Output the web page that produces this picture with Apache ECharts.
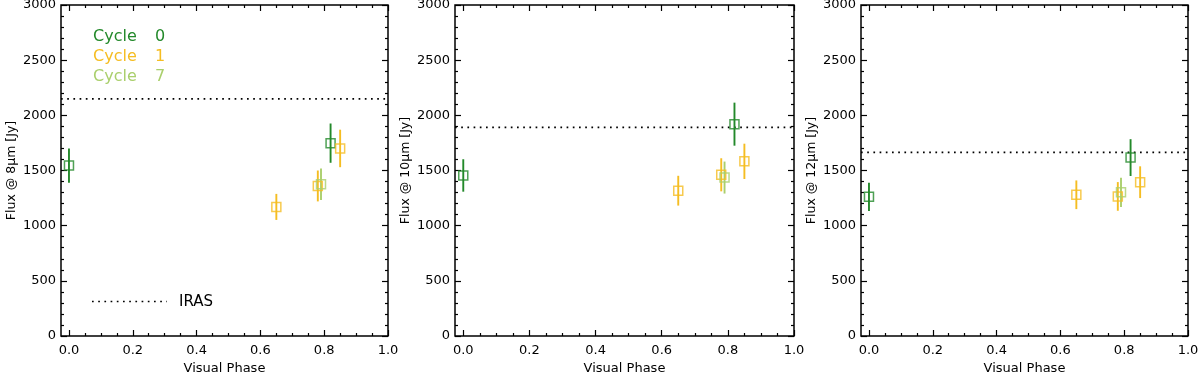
<!DOCTYPE html>
<html>
<head>
<meta charset="utf-8">
<title>Flux vs visual phase</title>
<script src="https://cdn.jsdelivr.net/npm/echarts@6.0.0/dist/echarts.min.js"></script>
<style>
  html, body { margin: 0; padding: 0; background: #fff; }
  #chart { width: 1200px; height: 373px; }
</style>
</head>
<body>
<div id="chart"></div>
<script>
// band names, IRAS reference flux per band
var bands = ['8', '10', '12'];
var irasFlux = [2150, 1890, 1665];

// cycle 0
var cycle0Phase = [0.00, 0.82];
var cycle0Flux = [[1545, 1748], [1455, 1920], [1262, 1617]];
var cycle0Err = [[155, 178], [147, 195], [128, 167]];
// cycle 1
var cycle1Phase = [0.65, 0.78, 0.85];
var cycle1Flux = [[1170, 1360, 1700], [1317, 1461, 1583], [1280, 1265, 1394]];
var cycle1Err = [[118, 140, 170], [135, 150, 160], [130, 130, 144]];
// cycle 7
var cycle7Phase = [0.79];
var cycle7Flux = [[1375], [1436], [1302]];
var cycle7Err = [[142], [145], [132]];

var xTicks = [0, 0.2, 0.4, 0.6, 0.8, 1.0];
var xMinorTicks = [0.05, 0.1, 0.15, 0.25, 0.3, 0.35, 0.45, 0.5, 0.55, 0.65, 0.7, 0.75, 0.85, 0.9, 0.95];
var yTicks = [0, 500, 1000, 1500, 2000, 2500, 3000];

var FONT = 'DejaVu Sans';
var XMIN = -0.025, XMAX = 1.0;

var cycles = [
  {name: 'Cycle', num: '0', color: '#23892a', phase: cycle0Phase, flux: cycle0Flux, err: cycle0Err},
  {name: 'Cycle', num: '1', color: '#f5bd22', phase: cycle1Phase, flux: cycle1Flux, err: cycle1Err},
  {name: 'Cycle', num: '7', color: '#aacf6c', phase: cycle7Phase, flux: cycle7Flux, err: cycle7Err}
];

var panels = [
  {left: 61, width: 327},
  {left: 455, width: 339},
  {left: 861, width: 327}
];

var grids = [], xAxes = [], yAxes = [], series = [];

function xAxisDef(gi, pos, vals, len, labels) {
  return {
    gridIndex: gi, type: 'value', min: XMIN, max: XMAX, position: pos,
    axisLine: {show: false, onZero: false},
    splitLine: {show: false},
    axisTick: {show: true, inside: true, length: len, customValues: vals,
      lineStyle: {color: '#000', width: 1.2}},
    axisLabel: labels ? {
      customValues: vals, margin: 8, fontSize: 13, color: '#000', fontFamily: FONT,
      formatter: function (v) { return v.toFixed(1); }
    } : {show: false},
    name: labels ? 'Visual Phase' : '',
    nameLocation: 'middle', nameGap: 21,
    nameTextStyle: {fontSize: 13, color: '#000', fontFamily: FONT}
  };
}

function yAxisDef(gi, pos, band, labels) {
  return {
    gridIndex: gi, type: 'value', min: yTicks[0], max: yTicks[yTicks.length - 1],
    interval: 500, position: pos,
    axisLine: {show: false, onZero: false},
    splitLine: {show: false},
    axisTick: {show: true, inside: true, length: 6, lineStyle: {color: '#000', width: 1.2}},
    minorTick: {show: true, splitNumber: 5, length: 3, lineStyle: {color: '#000', width: 1.2}},
    axisLabel: labels ? {margin: 5, fontSize: 13, color: '#000', fontFamily: FONT,
      formatter: function (v) { return String(v); }} : {show: false},
    name: labels ? 'Flux @ ' + band + '\u03bcm [Jy]' : '',
    nameLocation: 'middle', nameGap: 43, nameRotate: 90,
    nameTextStyle: {fontSize: 12.5, color: '#000', fontFamily: FONT}
  };
}

panels.forEach(function (p, i) {
  grids.push({left: p.left, width: p.width, top: 5, height: 331, show: true,
    outerBoundsMode: 'none', containLabel: false,
    borderColor: '#000', borderWidth: 1.5, backgroundColor: 'transparent'});
  xAxes.push(xAxisDef(i, 'bottom', xTicks, 6, true));
  xAxes.push(xAxisDef(i, 'bottom', xMinorTicks, 3, false));
  xAxes.push(xAxisDef(i, 'top', xTicks, 6, false));
  xAxes.push(xAxisDef(i, 'top', xMinorTicks, 3, false));
  yAxes.push(yAxisDef(i, 'left', bands[i], true));
  yAxes.push(yAxisDef(i, 'right', bands[i], false));

  var xi = i * 4, yi = i * 2;

  // IRAS level
  series.push({
    type: 'line', xAxisIndex: xi, yAxisIndex: yi, silent: true, symbol: 'none',
    data: [[XMIN, irasFlux[i]], [XMAX, irasFlux[i]]],
    lineStyle: {color: '#000', width: 1.7, type: [1.7, 4.5]}, z: 1
  });

  cycles.forEach(function (c) {
    var color = c.color;
    series.push({
      type: 'custom', xAxisIndex: xi, yAxisIndex: yi, silent: true, z: 2,
      data: c.phase.map(function (ph, j) {
        return [ph, c.flux[i][j] - c.err[i][j], c.flux[i][j] + c.err[i][j]];
      }),
      encode: {x: 0, y: [1, 2]},
      renderItem: function (params, api) {
        var a = api.coord([api.value(0), api.value(1)]);
        var b = api.coord([api.value(0), api.value(2)]);
        return {type: 'line', shape: {x1: a[0], y1: a[1], x2: b[0], y2: b[1]},
          style: {stroke: color, lineWidth: 1.9}};
      }
    });
    series.push({
      type: 'scatter', xAxisIndex: xi, yAxisIndex: yi, silent: true, z: 3,
      symbol: 'rect', symbolSize: 9,
      itemStyle: {color: 'rgba(0,0,0,0)', borderColor: color, borderWidth: 1.5},
      data: c.phase.map(function (ph, j) { return [ph, c.flux[i][j]]; })
    });
  });
});

// legend drawn as text inside first panel
var graphics = [];
cycles.forEach(function (c, k) {
  var y = 37 + k * 20;
  graphics.push({type: 'text', x: 93, y: y,
    style: {text: c.name, fill: c.color, font: '16px "' + FONT + '"', verticalAlign: 'middle'}});
  graphics.push({type: 'text', x: 155, y: y,
    style: {text: c.num, fill: c.color, font: '16px "' + FONT + '"', verticalAlign: 'middle'}});
});
graphics.push({type: 'line', shape: {x1: 92, y1: 301.5, x2: 167, y2: 301.5},
  style: {stroke: '#000', lineWidth: 1.7, lineDash: [1.7, 4.5]}});
graphics.push({type: 'text', x: 179, y: 302,
  style: {text: 'IRAS', fill: '#000', font: '15px "' + FONT + '"', verticalAlign: 'middle'}});

var myChart = echarts.init(document.getElementById('chart'), null, {renderer: 'canvas'});
myChart.setOption({
  animation: false,
  backgroundColor: '#fff',
  grid: grids,
  xAxis: xAxes,
  yAxis: yAxes,
  series: series,
  graphic: graphics
});
</script>
</body>
</html>
